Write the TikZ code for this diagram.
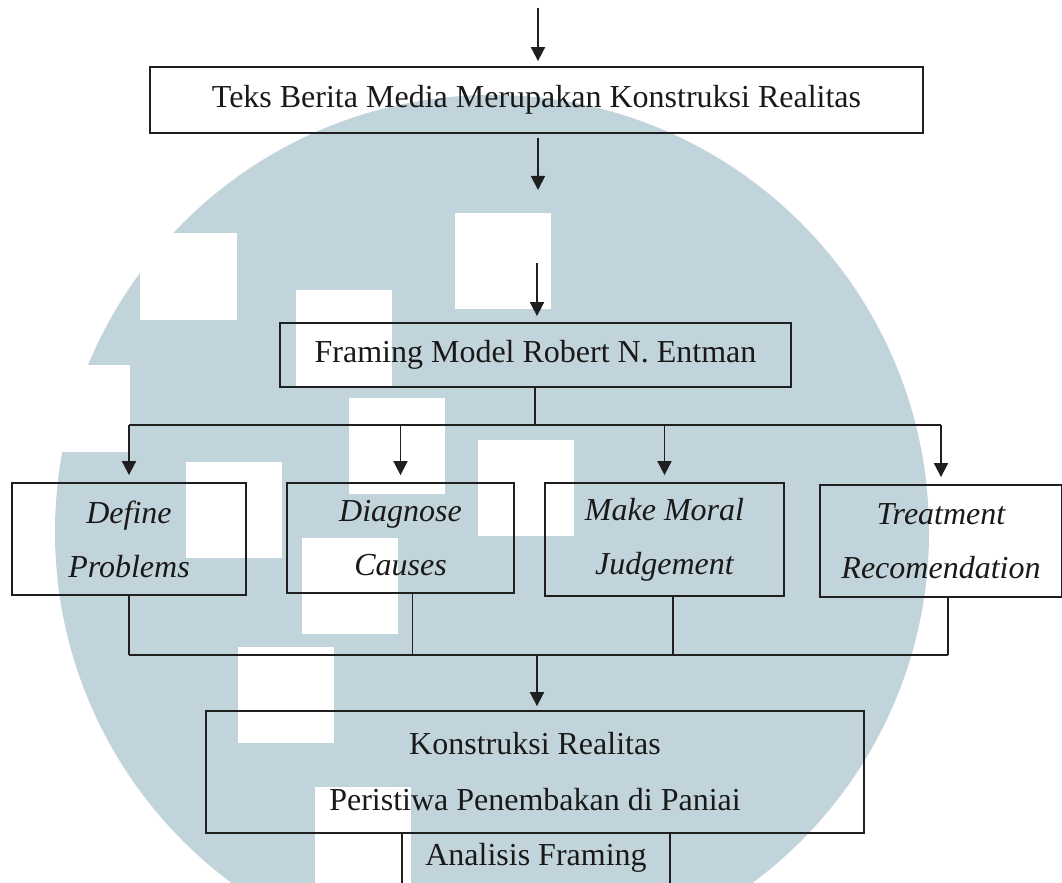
\documentclass[tikz,border=0pt]{standalone}
\usepackage{fontspec}
\setmainfont{Liberation Serif}
\usepackage{xcolor}
\usetikzlibrary{arrows.meta}
\definecolor{logoblue}{HTML}{C2D4DB}

\begin{document}
\begin{tikzpicture}[x=0.5pt,y=-0.5pt,
  box/.style={draw=black!88, line width=0.9pt, inner sep=0pt, align=center,
    text=black!90, font=\fontsize{16}{27}\selectfont},
  item/.style={box, font=\fontsize{16}{27}\selectfont\itshape},
  link/.style={black!88, line width=0.9pt},
  arr/.style={link, -{Triangle[length=7pt,width=7pt]}}]
  \useasboundingbox (0,0) rectangle (1062,883);
  % Watermark logo behind the chart
  \begin{scope}
    \clip (0,0) rectangle (1062,883);
    \fill[logoblue] (492,532) circle[radius=218.5pt];
    \fill[white] (140,233) rectangle (237,320);
    \fill[white] (0,365) rectangle (130,452);
    \foreach \x/\y in {455/213, 296/290, 349/398, 478/440, 186/462, 302/538, 238/647, 315/787}
      \fill[white] (\x,\y) rectangle ++(96,96);
  \end{scope}
  % Boxes
  \node[box, minimum width=386.5pt, minimum height=33pt] (teks) at (536.5,100)
    {Teks Berita Media Merupakan Konstruksi Realitas};
  \node[box, minimum width=255.5pt, minimum height=32pt] (framing) at (535.5,355)
    {Framing Model Robert N. Entman};
  \node[item, minimum width=117pt, minimum height=56pt] (define) at (129,539)
    {Define\\Problems};
  \node[item, minimum width=113.5pt, minimum height=55pt] (diagnose) at (400.5,538)
    {Diagnose\\Causes};
  \node[item, minimum width=119.5pt, minimum height=56.5pt] (moral) at (664.5,539.5)
    {Make Moral\\Judgement};
  \node[item, minimum width=121pt, minimum height=56pt] (treatment) at (941,541)
    {Treatment\\Recomendation};
  \node[box, minimum width=329pt, minimum height=61pt, font=\fontsize{16}{28}\selectfont]
    (konstruksi) at (535,772) {Konstruksi Realitas\\Peristiwa Penembakan di Paniai};
  \node[box, draw=none, minimum width=133pt, minimum height=25pt] (analisis) at (536,858)
    {Analisis Framing};
  % Arrows into the first two boxes
  \coordinate (in) at (538,8);
  \coordinate (gapA) at (538,190);
  \coordinate (gapB) at (537,263);
  \draw[arr, shorten >=2.5pt] (in) -- (in |- teks.north);
  \draw[arr, shorten <=2pt] (teks.south -| gapA) -- (gapA);
  \draw[arr, shorten >=3pt] (gapB) -- (gapB |- framing.north);
  % Split into the four elements
  \coordinate (split) at (535,425);
  \draw[link] (split |- framing.south) -- (split);
  \draw[link] (define.north |- split) -- (treatment.north |- split);
  \foreach \b in {define,diagnose,moral,treatment}
    \draw[arr, shorten >=3.5pt] (\b.north |- split) -- (\b.north);
  % Join back together
  \coordinate (join) at (537,655);
  \draw[link] (define.south) -- (define.south |- join);
  \draw[link] ([xshift=6pt]diagnose.south) -- ([xshift=6pt]diagnose.south |- join);
  \draw[link] ([xshift=4.25pt]moral.south) -- ([xshift=4.25pt]moral.south |- join);
  \draw[link] ([xshift=3.5pt]treatment.south) -- ([xshift=3.5pt]treatment.south |- join);
  \draw[link] (define.south |- join) -- ([xshift=3.5pt]treatment.south |- join);
  \draw[arr, shorten >=2pt] (join) -- (join |- konstruksi.north);
  % Sides of the last box
  \draw[link] (analisis.north west) -- (analisis.south west);
  \draw[link] (analisis.north east) -- (analisis.south east);
\end{tikzpicture}
\end{document}
